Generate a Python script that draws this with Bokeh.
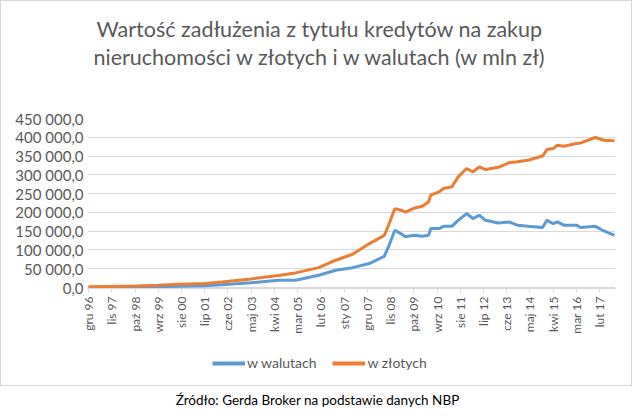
import math
from bokeh.plotting import figure
from bokeh.models import (Range1d, FixedTicker, Legend, LegendItem, Title, Div, LinearAxis)
from bokeh.layouts import column
from bokeh.embed import file_html
from bokeh.resources import INLINE

# ---- data (values in mln zł) ----
dates = ["1996-12", "1998-10", "1999-09", "2000-07", "2001-07", "2002-03", "2003-05",
         "2004-06", "2005-02", "2006-01", "2006-09", "2007-05", "2008-01", "2008-08",
         "2008-10", "2009-01", "2009-04", "2009-06", "2009-10", "2010-02", "2010-05",
         "2010-06", "2010-10", "2010-12", "2011-04", "2011-07", "2011-11", "2012-02",
         "2012-05", "2012-08", "2013-02", "2013-07", "2013-11", "2014-04", "2014-11",
         "2015-01", "2015-04", "2015-06", "2015-09", "2016-03", "2016-05", "2016-12",
         "2017-04", "2017-09"]
w_walutach = [500, 1000, 2000, 3500, 5000, 7500, 13000,
              19500, 19500, 32700, 46000, 53000, 64000, 83000,
              108000, 152600, 143000, 135000, 139000, 136600, 139000,
              157000, 157000, 163000, 163000, 179000, 197000, 183700,
              192500, 179000, 172000, 174700, 166000, 163000, 160000,
              179000, 170000, 174700, 166000, 166000, 160000, 163000,
              150700, 139000]
w_zlotych = [2000, 4000, 6000, 8500, 11000, 15000, 23000,
             32000, 39000, 53000, 72700, 88700, 117000, 139000,
             165000, 210000, 206000, 201000, 211000, 216500, 228000,
             246000, 254600, 263600, 268000, 294500, 317000, 308000,
             321000, 314000, 320000, 332000, 335000, 339000, 350000,
             367500, 370000, 379000, 376000, 383500, 385000, 399500,
             392000, 390500]
x_tick_labels = ["gru 96", "lis 97", "paź 98", "wrz 99", "sie 00", "lip 01", "cze 02",
                 "maj 03", "kwi 04", "mar 05", "lut 06", "sty 07", "gru 07", "lis 08",
                 "paź 09", "wrz 10", "sie 11", "lip 12", "cze 13", "maj 14", "kwi 15",
                 "mar 16", "lut 17"]
y_ticks = [0, 50000, 100000, 150000, 200000, 250000, 300000, 350000, 400000, 450000]
y_tick_labels = ["0,0", "50 000,0", "100 000,0", "150 000,0", "200 000,0", "250 000,0",
                 "300 000,0", "350 000,0", "400 000,0", "450 000,0"]


def month_index(d):
    yy, mm = map(int, d.split("-"))
    return (yy - 1996) * 12 + (mm - 12)


x = [month_index(d) for d in dates]
x_ticks = [i * 11 for i in range(len(x_tick_labels))]

FONT = "Lato"
GRAY = "#595959"
BLUE = "#5b9bd5"
ORANGE = "#ed7d31"


def spacer(n, at):
    # invisible axis (white tick on white) used only to reserve layout space
    return LinearAxis(ticker=FixedTicker(ticks=[at]), axis_line_color=None,
                      major_tick_line_color="white", minor_tick_line_color=None,
                      major_tick_out=n, major_tick_in=0, major_label_standoff=0,
                      major_label_overrides={at: ""}, major_label_text_font_size="1px",
                      major_label_text_color="white")


p = figure(frame_width=528, frame_height=170, output_backend="svg", toolbar_location=None,
           x_range=Range1d(-0.5, 249.5), y_range=Range1d(-2500, 450000),
           min_border_left=0, min_border_right=0, min_border_top=0,
           min_border_bottom=0)
p.outline_line_color = None
p.background_fill_color = "white"
p.border_fill_color = "white"

p.xgrid.visible = False
p.ygrid.ticker = FixedTicker(ticks=y_ticks)
p.ygrid.grid_line_color = "#d9d9d9"
p.ygrid.grid_line_width = 1

ya = p.yaxis[0]
ya.ticker = FixedTicker(ticks=y_ticks)
ya.major_label_overrides = {v: s for v, s in zip(y_ticks, y_tick_labels)}
ya.axis_line_color = None
ya.major_tick_line_color = None
ya.minor_tick_line_color = None
ya.major_tick_out = 0
ya.major_tick_in = 0
ya.major_label_text_font = FONT
ya.major_label_text_font_size = "15px"
ya.major_label_text_color = GRAY
ya.major_label_standoff = 4

xa = p.xaxis[0]
xa.ticker = FixedTicker(ticks=x_ticks)
xa.major_label_overrides = {v: s for v, s in zip(x_ticks, x_tick_labels)}
xa.major_label_orientation = math.pi / 2
xa.axis_line_color = "#d9d9d9"
xa.major_tick_line_color = "#d9d9d9"
xa.major_tick_out = 4
xa.major_tick_in = 0
xa.minor_tick_line_color = None
xa.major_label_text_font = FONT
xa.major_label_text_font_size = "12px"
xa.major_label_text_color = GRAY
xa.major_label_standoff = 4

p.add_layout(spacer(11, 200000), "left")
p.add_layout(spacer(16, 200000), "right")

r1 = p.line(x, w_walutach, line_color=BLUE, line_width=3)
r2 = p.line(x, w_zlotych, line_color=ORANGE, line_width=3)

p.add_layout(spacer(49, 100), "above")
t2 = Title(text="nieruchomości w złotych i w walutach (w mln zł)", align="left",
           text_font=FONT, text_font_size="21.5px", text_font_style="normal",
           text_color=GRAY, standoff=0, offset=6)
p.add_layout(t2, "above")
t1 = Title(text="Wartość zadłużenia z tytułu kredytów na zakup", align="left",
           text_font=FONT, text_font_size="21.5px", text_font_style="normal",
           text_color=GRAY, standoff=0, offset=9)
p.add_layout(t1, "above")
p.add_layout(spacer(12, 100), "above")

# legend strip (separate small figure so the legend is not clipped)
p2 = figure(width=623, height=49, output_backend="svg", toolbar_location=None,
            x_range=Range1d(0, 1), y_range=Range1d(0, 1),
            x_axis_location=None, y_axis_location=None,
            min_border_left=0, min_border_right=0, min_border_top=0,
            min_border_bottom=0)
p2.grid.visible = False
p2.outline_line_color = None
d1 = p2.line([-5, -4], [-5, -4], line_color=BLUE, line_width=4)
d2 = p2.line([-5, -4], [-5, -4], line_color=ORANGE, line_width=4)
legend = Legend(items=[LegendItem(label="w walutach", renderers=[d1]),
                       LegendItem(label="w złotych", renderers=[d2])],
                orientation="horizontal", location=(125, 14),
                glyph_width=33, glyph_height=14, label_standoff=2, spacing=16,
                padding=0, margin=0,
                label_text_font=FONT, label_text_font_size="14px",
                label_text_color=GRAY, border_line_color=None,
                background_fill_alpha=0)
p2.add_layout(legend, "center")

chart = column(p, p2, spacing=0, styles={"border": "1px solid #d9d9d9"})

src = Div(text="Źródło: Gerda Broker na podstawie danych NBP", width=625,
          styles={"text-align": "center", "font-family": "Lato", "font-size": "13.5px",
                  "color": "#000000"})

layout = column(chart, src, spacing=0)
open("out.html", "w").write(file_html(layout, INLINE))
